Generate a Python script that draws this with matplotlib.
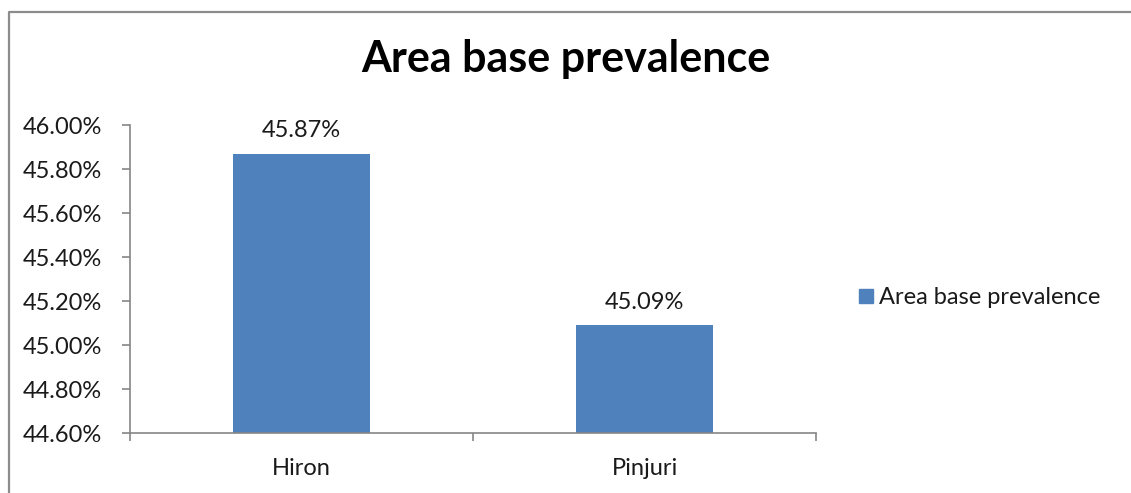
import matplotlib.pyplot as plt
from matplotlib.lines import Line2D
from matplotlib.ticker import FixedLocator

# Prevalence by area (%)
areas = ["Hiron", "Pinjuri"]
prevalence = [45.87, 45.09]
y_ticks = [44.60, 44.80, 45.00, 45.20, 45.40, 45.60, 45.80, 46.00]
series_name = "Area base prevalence"

plt.rcParams['font.family'] = ['Lato', 'DejaVu Sans']

W, H = 1131, 493
fig = plt.figure(figsize=(W / 100, H / 100), dpi=100)

# plot area in pixel coords: x 130..816, y 125..433
ax = fig.add_axes([130 / W, 1 - 433 / H, (816 - 130) / W, (433 - 125) / H])

bar_color = "#4F81BD"
axis_color = "#868686"
text_color = "#1A1A1A"
fs = 17

x = list(range(len(areas)))
ax.bar(x, prevalence, width=0.40, color=bar_color, zorder=2)
for xi, v in zip(x, prevalence):
    ax.annotate(f"{v:.2f}%", (xi, v), xytext=(0, 9), textcoords="offset points",
                ha="center", va="bottom", fontsize=fs, color=text_color)

ax.set_xlim(-0.5, len(areas) - 0.5)
ax.set_ylim(y_ticks[0], y_ticks[-1])
ax.set_yticks(y_ticks)
ax.set_yticklabels([f"{t:.2f}%" for t in y_ticks], fontsize=fs, color=text_color)

# category labels centred, ticks between categories
ax.set_xticks(x)
ax.set_xticklabels(areas, fontsize=fs, color=text_color)
ax.tick_params(axis="x", length=0, pad=18)
ax.xaxis.set_minor_locator(FixedLocator([-0.5, 0.5, 1.5]))
ax.tick_params(axis="x", which="minor", length=6, color=axis_color, width=1.2)
ax.tick_params(axis="y", length=6, color=axis_color, width=1.2, pad=14)

for side in ["top", "right"]:
    ax.spines[side].set_visible(False)
for side in ["left", "bottom"]:
    ax.spines[side].set_color(axis_color)
    ax.spines[side].set_linewidth(1.2)

fig.text(566 / W, 1 - 72 / H, "Area base prevalence", ha="center", va="baseline",
         fontsize=31, fontweight="bold", color="#000000")

# legend entry on the right
fig.patches.append(plt.Rectangle((859 / W, 1 - 303 / H), 14 / W, 14 / H,
                                 transform=fig.transFigure, color=bar_color))
fig.text(879 / W, 1 - 297 / H, series_name, ha="left", va="center", fontsize=fs, color=text_color)

# chart frame (top and left edges)
fig.add_artist(Line2D([8.5 / W, 8.5 / W, 1], [0, 1 - 11.5 / H, 1 - 11.5 / H],
                      transform=fig.transFigure, color="#8C8C8C", linewidth=1.6))

fig.savefig("out.png", dpi=100)
